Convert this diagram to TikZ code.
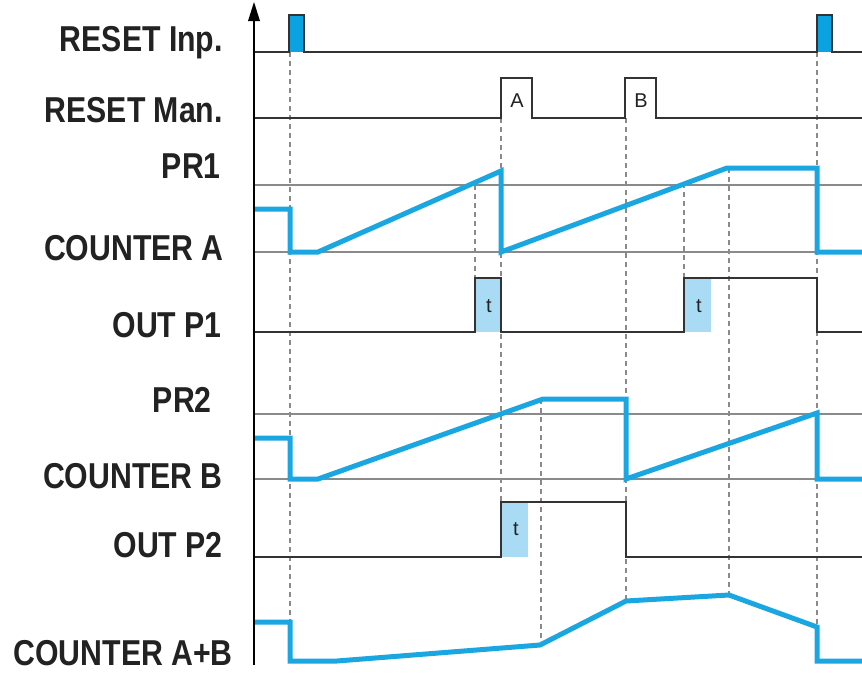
\documentclass[tikz,border=0pt]{standalone}
\usepackage{fontspec}
\setmainfont{Liberation Sans}
\newfontfamily\labfont[FakeStretch=0.84]{Liberation Sans}
\definecolor{sig}{HTML}{1AA7E1}
\definecolor{rst}{HTML}{0AA2E0}
\definecolor{tfill}{HTML}{A9DCF4}
\definecolor{lvl}{HTML}{8A8A8A}
\definecolor{dig}{HTML}{333333}
\definecolor{txt}{HTML}{222222}
\tikzset{
  lab/.style={anchor=base east, inner sep=0pt, text=txt, font=\labfont\bfseries\fontsize{36}{40}\selectfont},
  small/.style={inner sep=0pt, text=txt, font=\fontsize{20}{22}\selectfont},
  level/.style={draw=lvl, line width=1.4pt},
  guide/.style={draw=lvl, line width=1.2pt, dash pattern=on 5pt off 4pt},
  digital/.style={draw=dig, line width=1.8pt, line join=miter},
  analog/.style={draw=sig, line width=5pt, line join=miter},
  tbox/.style={fill=tfill},
}
\begin{document}
\begin{tikzpicture}[x=1pt,y=-1pt]
\useasboundingbox (0,0) rectangle (862,675);
\fill[white] (0,0) rectangle (862,675);

% labels
\node[lab] (lri) at (223,51) {RESET Inp.};
\node[lab] (lrm) at (223,122) {RESET Man.};
\node[lab] (lpr1) at (221,178) {PR1};
\node[lab] (lca) at (224,260) {COUNTER A};
\node[lab] (lo1) at (222,337) {OUT P1};
\node[lab] (lpr2) at (212,412) {PR2};
\node[lab] (lcb) at (223,488) {COUNTER B};
\node[lab] (lo2) at (223,557) {OUT P2};
\node[lab] (lcab) at (233,665) {COUNTER A+B};

% level lines
\draw[level] (254,185) -- (862,185);
\draw[level] (254,252) -- (862,252);
\draw[level] (254,414) -- (862,414);
\draw[level] (254,479) -- (862,479);

% light blue t fills
\fill[tbox] (475,278) rectangle (501,332);
\fill[tbox] (684,278) rectangle (711,332);
\fill[tbox] (501,502) rectangle (528,557);

% guide dashed lines
\draw[guide] (290,52) -- (290,660);
\draw[guide] (475,185) -- (475,332);
\draw[guide] (501,118) -- (501,557);
\draw[guide] (541,399) -- (541,645);
\draw[guide] (626,118) -- (626,602);
\draw[guide] (684,183) -- (684,332);
\draw[guide] (729,168) -- (729,596);
\draw[guide] (817,52) -- (817,628);

% RESET Inp.
\fill[rst] (289,15) rectangle (304,52);
\fill[rst] (817,15) rectangle (832,52);
\draw[digital] (254,52) -- (289,52) -- (289,15) -- (304,15) -- (304,52) -- (817,52) -- (817,15) -- (832,15) -- (832,52) -- (862,52);

% RESET Man.
\draw[digital] (254,118) -- (501,118) -- (501,78) -- (532,78) -- (532,118) -- (625,118) -- (625,78) -- (656,78) -- (656,118) -- (862,118);
\node[small] (la) at (517,101) {A};
\node[small] (lb) at (641,101) {B};

% COUNTER A
\draw[analog] (254,209) -- (290,209) -- (290,252) -- (318,252) -- (501,171) -- (501,252) -- (727,168) -- (817,168) -- (817,252) -- (862,252);

% OUT P1
\draw[digital] (254,332) -- (475,332) -- (475,278) -- (501,278) -- (501,332) -- (684,332) -- (684,278) -- (817,278) -- (817,332) -- (862,332);
\node[small] (t1) at (489,306) {t};
\node[small] (t2) at (699,306) {t};

% COUNTER B
\draw[analog] (254,438) -- (290,438) -- (290,479) -- (318,479) -- (543,399) -- (626,399) -- (626,479) -- (817,413) -- (817,479) -- (862,479);

% OUT P2
\draw[digital] (254,557) -- (501,557) -- (501,502) -- (626,502) -- (626,557) -- (862,557);
\node[small] (t3) at (516,529) {t};

% COUNTER A+B
\draw[analog] (254,622) -- (290,622) -- (290,661) -- (337,661) -- (540,645) -- (626,601) -- (729,595) -- (817,627) -- (817,661) -- (862,661);

% axis
\coordinate (ax0) at (254,665);
\coordinate (ax1) at (254,16);
\coordinate (tip) at (254,2);
\draw[black, line width=2.4pt] (ax0) -- (ax1);
\fill[black] (tip) -- (260,21) -- (248,21) -- cycle;
\end{tikzpicture}
\end{document}
